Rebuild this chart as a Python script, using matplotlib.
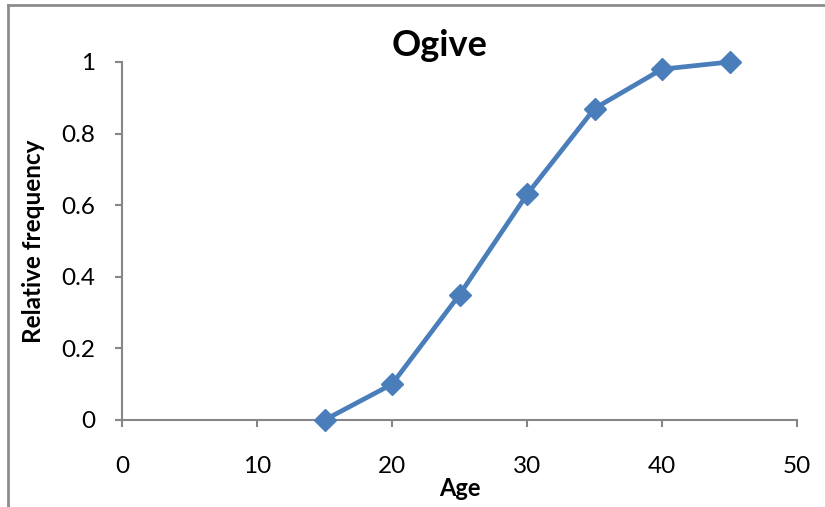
import matplotlib
matplotlib.use("Agg")
import matplotlib.pyplot as plt
from matplotlib.lines import Line2D

plt.rcParams['font.family'] = ['Lato', 'DejaVu Sans']

ages = [15, 20, 25, 30, 35, 40, 45]
rel_freq = [0, 0.1, 0.35, 0.63, 0.87, 0.98, 1.0]
x_ticks = [0, 10, 20, 30, 40, 50]
y_ticks = [0, 0.2, 0.4, 0.6, 0.8, 1]
y_labels = ['0', '0.2', '0.4', '0.6', '0.8', '1']

fig = plt.figure(figsize=(8.25, 5.07), dpi=100)
ax = fig.add_axes([122/825, 1 - 420/507, (797-122)/825, (420-62)/507])

blue = '#4a7ebb'
ax.plot(ages, rel_freq, color=blue, lw=3.4, marker='D', markersize=11,
        markerfacecolor=blue, markeredgecolor=blue, clip_on=False, zorder=3)

ax.set_xlim(0, 50)
ax.set_ylim(0, 1)
ax.set_xticks(x_ticks)
ax.set_yticks(y_ticks)
ax.set_yticklabels(y_labels)

axis_gray = '#868686'
for s in ['top', 'right']:
    ax.spines[s].set_visible(False)
for s in ['left', 'bottom']:
    ax.spines[s].set_color(axis_gray)
    ax.spines[s].set_linewidth(1.5)
ax.tick_params(direction='out', length=5, width=1.5, color=axis_gray,
               labelsize=17.5)
ax.tick_params(axis='x', pad=21)
ax.tick_params(axis='y', pad=14)

ax.set_title('Ogive', fontsize=26, fontweight='bold', pad=4)
ax.title.set_position((0.47, 1.0))
ax.set_xlabel('Age', fontsize=17, fontweight='bold', labelpad=0)
ax.set_ylabel('Relative frequency', fontsize=17.5, fontweight='bold', labelpad=12)

# chart border (only top and left visible in the crop)
border = '#8c8c8c'
fig.add_artist(Line2D([8/825, 8/825], [0, 1 - 5/507], transform=fig.transFigure,
                      color=border, lw=2))
fig.add_artist(Line2D([8/825, 1], [1 - 5/507, 1 - 5/507], transform=fig.transFigure,
                      color=border, lw=2))

fig.savefig('out.png', dpi=100)
